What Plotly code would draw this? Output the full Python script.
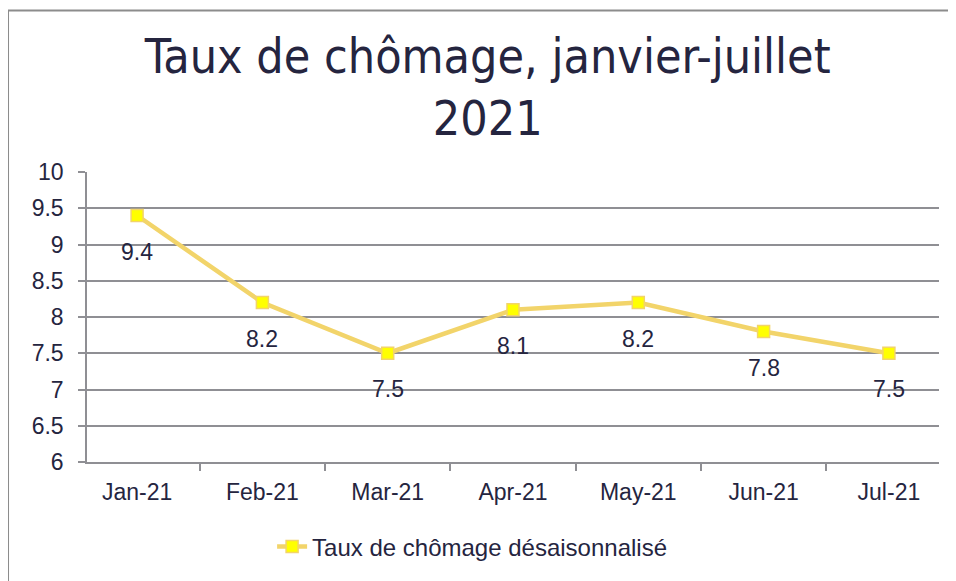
import plotly.graph_objects as go

months = ["Jan-21", "Feb-21", "Mar-21", "Apr-21", "May-21", "Jun-21", "Jul-21"]
rates = [9.4, 8.2, 7.5, 8.1, 8.2, 7.8, 7.5]
series_name = "Taux de chômage désaisonnalisé"
title_text = "Taux de chômage, janvier-juillet<br>2021"
y_ticks = [6, 6.5, 7, 7.5, 8, 8.5, 9, 9.5, 10]

TXT = "#25253f"
LINE = "#F2D46A"
GRID = "#8f8f94"
FONT = "Liberation Sans, Arial"

fig = go.Figure()
fig.add_trace(go.Scatter(
    x=months, y=rates, mode="lines+markers", name=series_name,
    line=dict(color=LINE, width=4.5),
    marker=dict(symbol="square", size=12, color="#FFFF00", line=dict(color=LINE, width=1.5)),
    hoverinfo="x+y",
))

for m, v in zip(months, rates):
    fig.add_annotation(x=m, y=v, text=str(v), showarrow=False, yshift=-36,
                       font=dict(family=FONT, size=23, color=TXT))

# outer chart border (top and left edges visible)
fig.add_shape(type="line", xref="paper", yref="paper", x0=-0.0927, x1=1.05, y0=1.557, y1=1.557,
              line=dict(color="#8c8c8c", width=2))
fig.add_shape(type="line", xref="paper", yref="paper", x0=-0.0927, x1=-0.0927, y0=1.557, y1=-0.45,
              line=dict(color="#8c8c8c", width=2))

fig.update_layout(
    width=948, height=573,
    margin=dict(l=79, r=17, t=164, b=119),
    paper_bgcolor="white", plot_bgcolor="white",
    title=dict(text=title_text, x=0.506, xanchor="center", y=0.887, yanchor="middle",
               font=dict(family="DejaVu Sans Condensed, Liberation Sans", size=48, color=TXT)),
    showlegend=True,
    legend=dict(orientation="h", x=0.452, xanchor="center", y=-0.293, yanchor="middle",
                font=dict(family=FONT, size=24, color=TXT)),
    xaxis=dict(type="category", showgrid=False, showline=True, linecolor=GRID, linewidth=1.5,
               ticks="outside", tickson="boundaries", ticklen=7, tickcolor=GRID, tickwidth=1.5,
               ticklabelstandoff=9,
               tickfont=dict(family=FONT, size=23, color=TXT)),
    yaxis=dict(range=[6, 10], tickvals=y_ticks, ticktext=[f"{t:g}" for t in y_ticks],
               showgrid=True, gridcolor=GRID, gridwidth=1.5, showline=True, linecolor=GRID, linewidth=1.5,
               ticks="outside", ticklen=7, tickcolor=GRID, tickwidth=1.5, zeroline=False,
               ticklabelstandoff=10,
               tickfont=dict(family=FONT, size=23, color=TXT)),
)

fig.write_html("out.html")
